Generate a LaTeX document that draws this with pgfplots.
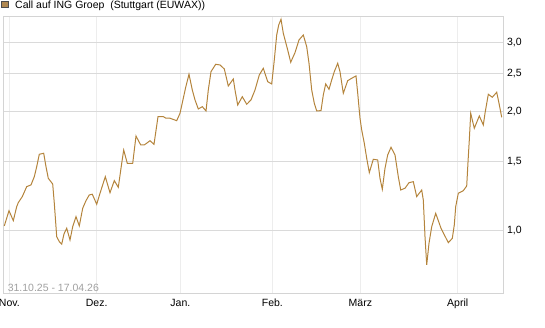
\documentclass[border=0pt]{standalone}
\usepackage{pgfplots}
\pgfplotsset{compat=1.18}
\usepackage{fontspec}
\setmainfont{Liberation Sans}
\definecolor{linec}{HTML}{B4843C}
\definecolor{squarec}{HTML}{B08850}
\definecolor{gridh}{HTML}{DADADA}
\definecolor{gridv}{HTML}{EDEDED}
\definecolor{framec}{HTML}{D4D4D4}
\definecolor{datec}{HTML}{A0A0A0}
\begin{document}
\begin{tikzpicture}[x=1pt,y=1pt]
\useasboundingbox (0,0) rectangle (545,327);
\begin{axis}[
  at={(3pt,33.7pt)}, anchor=south west,
  scale only axis, width=500.5pt, height=277.3pt,
  xmin=3, xmax=503.5,
  ymode=log, ymin=0.696, ymax=3.49,
  xtick={9.4,96.7,180.4,272.4,360.4,457.7},
  xticklabels={Nov.,Dez.,Jan.,Feb.,März,April},
  ytick={1,1.5,2,2.5,3},
  yticklabels={{1,0},{1,5},{2,0},{2,5},{3,0}},
  yticklabel pos=right,
  major tick length=0pt,
  xmajorgrids, ymajorgrids,
  x grid style={draw=gridv, line width=1pt},
  y grid style={draw=gridh, line width=1pt},
  axis line style={draw=framec, line width=1pt},
  tick label style={font=\fontsize{10.5}{12}\selectfont, text=black},
  xticklabel style={yshift=-2pt},
  clip=true,
]
\addplot[linec, line width=1pt, mark=none] coordinates {
(4.3,1.030) (9,1.125) (13.3,1.062) (16.7,1.152) (18.3,1.179) (22.3,1.221)
(26.7,1.294) (31,1.307) (34.3,1.371) (36.7,1.453) (39.3,1.562) (43.7,1.571)
(46,1.453) (48.3,1.358) (52.7,1.314) (54.3,1.175) (56.7,0.967) (59.3,0.940)
(61.7,0.926) (64,0.983) (66.7,1.016) (70,0.949) (72.7,1.025) (76,1.087)
(79.3,1.030) (82.7,1.141) (86,1.193) (89.3,1.233) (92.3,1.238) (96.7,1.168)
(100,1.245) (105.3,1.371) (110,1.249) (114.3,1.340) (118.3,1.289) (121.7,1.482)
(123.7,1.601) (127.3,1.482) (132.7,1.482) (136,1.737) (140.7,1.649) (144.3,1.649)
(150,1.690) (154,1.655) (158,1.944) (163.3,1.944) (166,1.926) (170,1.926)
(176.7,1.899) (180,1.982) (183.3,2.163) (185.7,2.306) (189,2.487) (192.3,2.270)
(195,2.142) (198.3,2.033) (202.3,2.060) (206,2.009) (208.3,2.270) (211,2.525)
(215.7,2.636) (220,2.625) (224.3,2.565) (228.3,2.323) (233.3,2.420) (235,2.270)
(237.7,2.080) (242.3,2.183) (246.7,2.089) (251,2.142) (255,2.270) (259.3,2.477)
(263.3,2.575) (267.7,2.382) (271.7,2.351) (274.3,2.703) (276.7,3.125) (278.7,3.312)
(281,3.424) (283.3,3.156) (287.7,2.864) (290.7,2.667) (295,2.820) (299,3.036)
(303.3,3.125) (306.7,2.920) (309,2.651) (311.7,2.270) (314.3,2.101) (316.7,2.009)
(321,2.013) (323.3,2.205) (325.7,2.351) (329,2.279) (331.7,2.406) (334.3,2.525)
(337.7,2.651) (340,2.525) (341,2.430) (343.3,2.227) (347.7,2.396) (351.7,2.430)
(356,2.463) (357.7,2.227) (360,1.926) (361.7,1.799) (364.3,1.665) (366.7,1.526)
(369.3,1.404) (373.3,1.517) (377.7,1.511) (380,1.358) (382.3,1.274) (385,1.440)
(387.7,1.556) (391,1.627) (395,1.556) (398.3,1.371) (400.7,1.269) (405,1.282)
(409,1.324) (413.3,1.332) (416.7,1.221) (421.7,1.269) (423.3,1.197) (425,0.967)
(426.7,0.821) (429,0.931) (431.7,1.025) (435.7,1.108) (441,1.016) (448.3,0.934)
(452.3,0.958) (454.3,1.036) (455.7,1.152) (458.3,1.245) (463.3,1.264) (466.7,1.299)
(468.3,1.540) (469.3,1.697) (470.7,1.982) (474.3,1.817) (479.3,1.952) (483.3,1.852)
(485,1.982) (488.3,2.214) (492.3,2.176) (496.7,2.240) (499,2.101) (501.7,1.937)
};
\end{axis}
\node[anchor=west, text=datec, font=\fontsize{10.5}{12}\selectfont, inner sep=0pt] at (7.6,39.2) {31.10.25 - 17.04.26};
\filldraw[fill=squarec, draw=black!70, line width=0.7pt] (1.5,319.5) rectangle (8.5,326);
\node[anchor=base west, inner sep=0pt, font=\fontsize{10.5}{12}\selectfont] at (15,318) {Call auf ING Groep\ \ (Stuttgart (EUWAX))};
\end{tikzpicture}
\end{document}
